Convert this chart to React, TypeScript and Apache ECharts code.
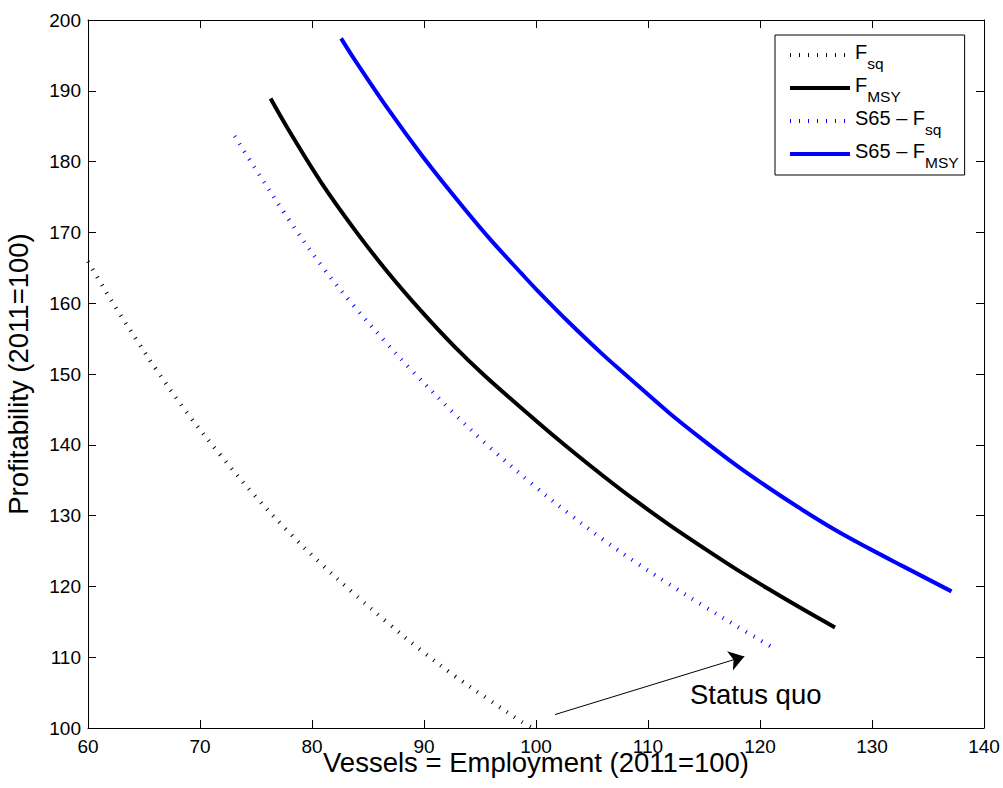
import React, { useEffect, useRef } from "react";
import * as echarts from "echarts";

// ---- data ----
const F_SQ_X = [60.0, 61.5, 63.0, 64.5, 66.1, 68.9, 71.9, 74.9, 77.9, 80.8, 83.8, 86.8, 89.8, 92.7, 95.7, 98.7, 99.7];
const F_SQ_Y = [165.9, 161.9, 158.1, 154.4, 150.6, 144.4, 138.4, 132.8, 127.7, 123.2, 118.9, 114.8, 110.9, 107.4, 104.1, 100.9, 100.0];

const F_MSY_X = [76.3, 77.9, 80.8, 83.8, 86.8, 89.8, 92.7, 95.4, 100.0, 103.0, 106.0, 108.9, 111.9, 114.9, 117.9, 120.8, 123.8, 126.7];
const F_MSY_Y = [188.9, 184.5, 177.1, 170.4, 164.3, 158.8, 153.9, 149.8, 143.4, 139.4, 135.6, 132.1, 128.7, 125.5, 122.4, 119.6, 116.8, 114.2];

const S65_F_SQ_X = [73.1, 74.9, 77.9, 80.8, 83.8, 86.8, 88.6, 92.7, 95.7, 99.7, 103.0, 106.0, 108.9, 111.9, 114.9, 117.9, 121.2];
const S65_F_SQ_Y = [183.6, 179.1, 171.9, 165.4, 159.5, 154.1, 151.0, 144.4, 139.9, 134.4, 130.2, 126.6, 123.4, 120.3, 117.3, 114.4, 111.3];

const S65_F_MSY_X = [82.6, 83.8, 86.8, 89.8, 92.7, 95.7, 98.7, 100.0, 103.0, 106.0, 108.0, 111.9, 114.9, 117.9, 120.8, 123.8, 126.8, 129.8, 132.7, 137.1];
const S65_F_MSY_Y = [197.4, 194.4, 187.4, 180.9, 175.1, 169.4, 164.2, 162.0, 157.2, 152.7, 149.9, 144.5, 140.7, 137.1, 133.9, 130.8, 127.9, 125.3, 122.9, 119.3];

const SERIES_NAMES = ["F_sq", "F_MSY", "S65 \u2013 F_sq", "S65 \u2013 F_MSY"];
const SERIES_X = [F_SQ_X, F_MSY_X, S65_F_SQ_X, S65_F_MSY_X];
const SERIES_Y = [F_SQ_Y, F_MSY_Y, S65_F_SQ_Y, S65_F_MSY_Y];
const SERIES_COLORS = ["#000000", "#000000", "#0000ff", "#0000ff"];
const SERIES_DOTTED = [true, false, true, false];

const X_MIN = 60;
const X_MAX = 140;
const X_STEP = 10;
const Y_MIN = 100;
const Y_MAX = 200;
const Y_STEP = 10;

const X_TITLE = "Vessels = Employment (2011=100)";
const Y_TITLE = "Profitability (2011=100)";

const ANNOTATION_TEXT = "Status quo";
const ARROW_FROM = [101.7, 101.9];
const ARROW_TO = [118.6, 110.1];
const ANNOTATION_AT = [113.75, 104.8];

const FONT = "'Liberation Sans', Arial, Helvetica, sans-serif";

function zip(xs: number[], ys: number[]) {
  return xs.map((x, i) => [x, ys[i]]);
}

export default function App() {
  const ref = useRef<HTMLDivElement>(null);

  useEffect(() => {
    if (!ref.current) return;
    const chart = echarts.init(ref.current, undefined, { renderer: "svg" });

    const axisCommon = {
      type: "value" as const,
      splitLine: { show: false },
      axisLine: { show: true, onZero: false, lineStyle: { color: "#000", width: 1 } },
      axisTick: { show: true, inside: true, length: 8, lineStyle: { color: "#000", width: 1 } },
    };

    const series: any[] = SERIES_NAMES.map((name, i) => ({
      name,
      type: "line",
      data: zip(SERIES_X[i], SERIES_Y[i]),
      smooth: 0.35,
      showSymbol: false,
      symbol: "none",
      xAxisIndex: 0,
      yAxisIndex: 0,
      lineStyle: {
        color: SERIES_COLORS[i],
        width: 4,
        type: SERIES_DOTTED[i] ? [1, 8] : "solid",
        cap: "butt",
      },
      itemStyle: { color: SERIES_COLORS[i] },
      z: 3,
    }));

    series[0].markLine = {
      silent: true,
      symbol: ["none", "arrow"],
      symbolSize: 15,
      label: { show: false },
      lineStyle: { color: "#000", width: 1, type: "solid" },
      emphasis: { disabled: true },
      data: [[{ coord: ARROW_FROM }, { coord: ARROW_TO }]],
    };
    series[0].markPoint = {
      silent: true,
      symbol: "circle",
      symbolSize: 0,
      itemStyle: { color: "transparent" },
      data: [
        {
          coord: ANNOTATION_AT,
          label: {
            show: true,
            position: "right",
            distance: 0,
            formatter: ANNOTATION_TEXT,
            fontSize: 27.5,
            fontFamily: FONT,
            color: "#000",
          },
        },
      ],
    };

    chart.setOption({
      animation: false,
      backgroundColor: "#ffffff",
      textStyle: { fontFamily: FONT },
      grid: { left: 88, right: 19, top: 20, bottom: 60, containLabel: false, outerBoundsMode: "none" },
      legend: {
        data: SERIES_NAMES,
        orient: "vertical",
        left: 775,
        top: 35,
        padding: [7, 6, 5, 13],
        borderColor: "#000",
        borderWidth: 1,
        backgroundColor: "#fff",
        itemWidth: 60,
        itemHeight: 20,
        itemGap: 4,
        selectedMode: false,
        itemStyle: { opacity: 0 },
        lineStyle: { width: 4 },
        formatter: (name: string) => {
          const [main, sub] = name.split("_");
          return `{m|${main}}{s|${sub}}`;
        },
        textStyle: {
          fontFamily: FONT,
          color: "#000",
          fontSize: 20,
          rich: {
            m: { fontSize: 20, fontFamily: FONT, color: "#000", verticalAlign: "top", padding: [3, 0, 0, 0] },
            s: { fontSize: 15.5, fontFamily: FONT, color: "#000", verticalAlign: "top", padding: [16, 0, 0, 0] },
          },
        },
      },
      xAxis: [
        {
          ...axisCommon,
          position: "bottom",
          min: X_MIN,
          max: X_MAX,
          interval: X_STEP,
          axisLabel: { fontSize: 19, lineHeight: 16, color: "#000", margin: 10, fontFamily: FONT },
          name: X_TITLE,
          nameLocation: "middle",
          nameGap: 24,
          nameMoveOverlap: false,
          nameTextStyle: { fontSize: 27.5, lineHeight: 20, color: "#000", fontFamily: FONT },
        },
        {
          ...axisCommon,
          position: "top",
          min: X_MIN,
          max: X_MAX,
          interval: X_STEP,
          axisLabel: { show: false },
        },
      ],
      yAxis: [
        {
          ...axisCommon,
          position: "left",
          min: Y_MIN,
          max: Y_MAX,
          interval: Y_STEP,
          axisLabel: { fontSize: 19, color: "#000", margin: 7, fontFamily: FONT },
          name: Y_TITLE,
          nameLocation: "middle",
          nameGap: 56,
          nameMoveOverlap: false,
          nameTextStyle: { fontSize: 27.5, color: "#000", fontFamily: FONT },
        },
        {
          ...axisCommon,
          position: "right",
          min: Y_MIN,
          max: Y_MAX,
          interval: Y_STEP,
          axisLabel: { show: false },
        },
      ],
      series,
    });

    return () => chart.dispose();
  }, []);

  return (
    <div
      ref={ref}
      style={{ position: "absolute", left: 0, top: 0, width: 1003, height: 788, background: "#fff" }}
    />
  );
}
